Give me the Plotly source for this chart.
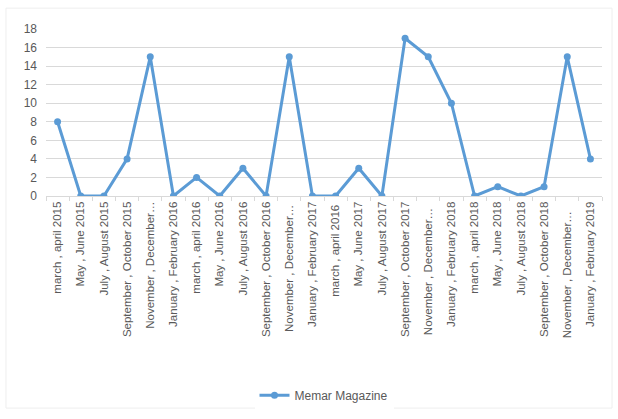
import plotly.graph_objects as go

categories = [
    "march , april 2015", "May , June 2015", "July , August 2015",
    "September , October 2015", "November , December…", "January , February 2016",
    "march , april 2016", "May , June 2016", "July , August 2016",
    "September , October 2016", "November , December… ", "January , February 2017",
    "march , april 2016 ", "May , June 2017", "July , August 2017",
    "September , October 2017", "November , December…  ", "January , February 2018",
    "march , april 2018", "May , June 2018", "July , August 2018",
    "September , October 2018", "November , December…   ", "January , February 2019",
]
values = [8, 0, 0, 4, 15, 0, 2, 0, 3, 0, 15, 0, 0, 3, 0, 17, 15, 10, 0, 1, 0, 1, 15, 4]
y_ticks = [0, 2, 4, 6, 8, 10, 12, 14, 16, 18]

blue = "#5B9BD5"
grey_text = "#595959"

fig = go.Figure()
fig.add_trace(go.Scatter(
    x=categories, y=values, mode="lines+markers", name="Memar Magazine",
    line=dict(color=blue, width=3),
    marker=dict(color=blue, size=7, symbol="circle"),
))

fig.update_layout(
    width=618, height=419,
    margin=dict(l=46, r=16, t=29, b=222),
    paper_bgcolor="white", plot_bgcolor="white",
    font=dict(family="Liberation Sans, Arial, sans-serif", color=grey_text, size=11),
    showlegend=True,
    legend=dict(orientation="h", x=0.5, xanchor="center", y=-1.18, yanchor="middle",
                font=dict(size=12, color=grey_text)),
    xaxis=dict(
        type="category", tickangle=-90, tickfont=dict(size=11.5, color=grey_text),
        showgrid=False, showline=True, linecolor="#d9d9d9", linewidth=1,
        ticks="outside", tickson="boundaries", ticklen=4, tickcolor="#d9d9d9",
        range=[-0.5, len(categories) - 0.5],
    ),
    yaxis=dict(
        range=[0, 18], tickvals=y_ticks, showgrid=True, gridcolor="#d9d9d9",
        gridwidth=1, zeroline=False, showline=False, tickfont=dict(size=12, color=grey_text),
        ticks="", ticklabelstandoff=8,
    ),
    shapes=[dict(type="rect", xref="paper", yref="paper",
                 x0=-0.072, x1=1.018, y0=-1.27, y1=1.125,
                 line=dict(color="#eeeeee", width=1))],
)

fig.write_html("out.html")
